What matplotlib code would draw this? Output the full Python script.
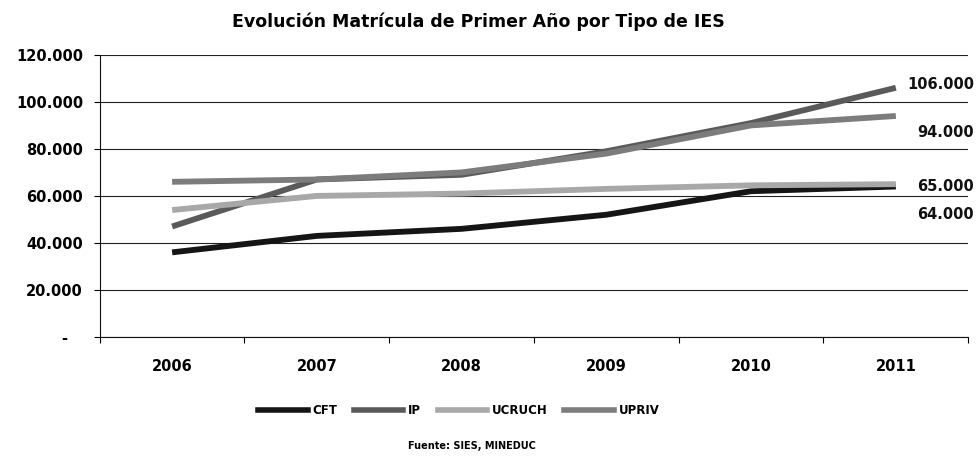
import matplotlib
matplotlib.use("Agg")
import matplotlib.pyplot as plt
from matplotlib.lines import Line2D
import numpy as np

# datos
years = ['2006', '2007', '2008', '2009', '2010', '2011']
cft = [36000, 43000, 46000, 52000, 62000, 64000]
ip = [47000, 67000, 69000, 79000, 91000, 106000]
ucruch = [54000, 60000, 61000, 63000, 64500, 65000]
upriv = [66000, 67000, 70000, 78000, 90000, 94000]

series_names = ['CFT', 'IP', 'UCRUCH', 'UPRIV']
series_vals = [cft, ip, ucruch, upriv]
colors = ['#151515', '#5a5a5a', '#a8a8a8', '#7c7c7c']
# desplazamiento vertical (pixeles) de la etiqueta final de cada serie
label_dy = [-28, 3, -2, -17]

plt.rcParams['font.family'] = ['DejaVu Sans']

fig = plt.figure(figsize=(9.78, 4.61), dpi=100)
ax = fig.add_axes([0.102, 0.269, 0.888, 0.612])

x = np.arange(len(years))
for name, vals, col in zip(series_names, series_vals, colors):
    ax.plot(x, vals, color=col, lw=4.2, solid_capstyle='butt', zorder=3)

# etiquetas de valor al final (2011)
order = [1, 3, 2, 0]
for i in order:
    v = series_vals[i][-1]
    ax.annotate(f'{v:,.0f}'.replace(',', '.'), xy=(x[-1], v),
                xytext=(78, label_dy[i]), textcoords='offset pixels',
                ha='right', va='center', fontsize=10.5, fontweight='bold',
                color='#111111', annotation_clip=False)

ax.set_xlim(-0.5, len(years) - 0.5)
ax.set_ylim(0, 120000)
yt = np.arange(0, 120001, 20000)
ax.set_yticks(yt)
ax.set_yticklabels(['-   '] + [f'{v:,.0f}'.replace(',', '.') for v in yt[1:]],
                   fontsize=10.5, fontweight='bold')
ax.set_xticks(x)
ax.set_xticklabels(years, fontsize=10.5, fontweight='bold')
ax.set_xticks(np.arange(-0.5, len(years)), minor=True)
ax.tick_params(axis='x', which='major', length=0, pad=16)
ax.tick_params(axis='x', which='minor', length=4, direction='out', width=0.8)
ax.tick_params(axis='y', length=4, width=0.8, pad=8)

ax.yaxis.grid(True, color='#222222', lw=0.8)
ax.set_axisbelow(True)
for s in ['top', 'right']:
    ax.spines[s].set_visible(False)
ax.spines['left'].set_color('#111111')
ax.spines['bottom'].set_color('#111111')

ax.set_title('Evolución Matrícula de Primer Año por Tipo de IES',
             fontsize=12.5, fontweight='bold', pad=20, x=0.436)

handles = [Line2D([], [], color=c, lw=4) for c in colors]
fig.legend(handles, series_names, loc='center', bbox_to_anchor=(0.469, 0.11),
           ncol=4, frameon=False, handlelength=4.2, handletextpad=0.4,
           columnspacing=1.4, prop={'size': 8.5, 'weight': 'bold'})

fig.text(0.483, 0.032, 'Fuente: SIES, MINEDUC', ha='center', va='center',
         fontsize=7, fontweight='bold')

fig.savefig('out.png', dpi=100)
